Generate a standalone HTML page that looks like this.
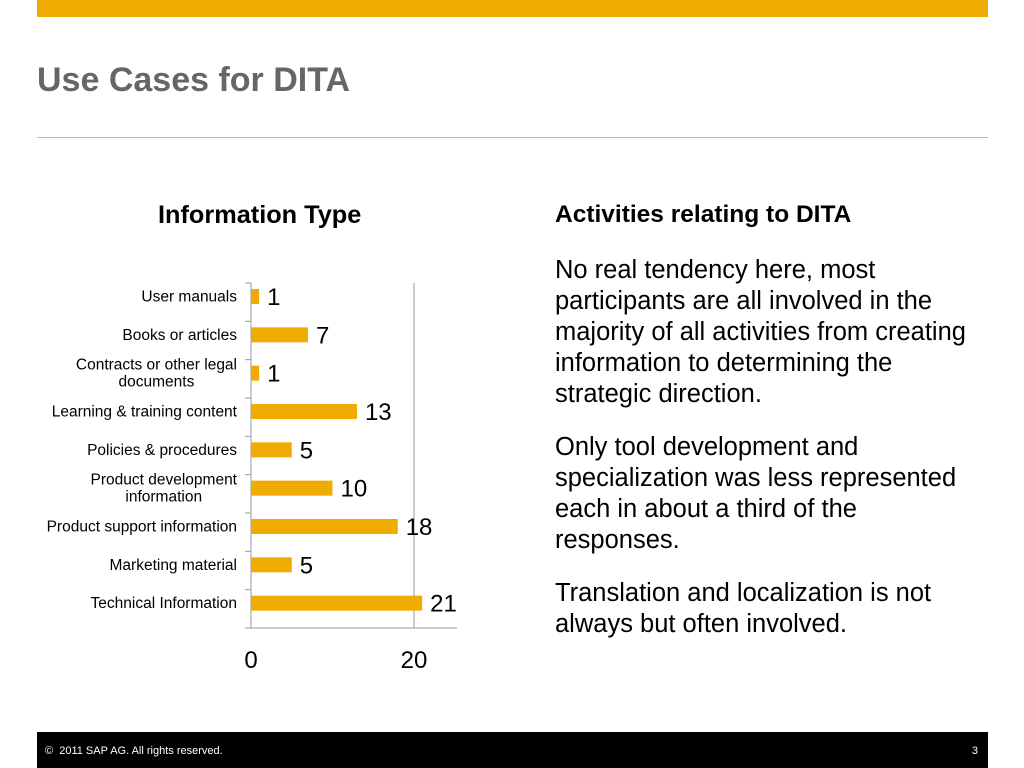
<!DOCTYPE html>
<html><head><meta charset="utf-8"><style>
body{margin:0;width:1024px;height:768px;background:#fff;font-family:"Liberation Sans",Arial,sans-serif;position:relative;overflow:hidden}
.abs{position:absolute}
</style></head><body>
<div class="abs" style="left:37px;top:0;width:951px;height:17px;background:#f0ab00"></div>
<div class="abs" style="left:37px;top:61px;font-size:34px;font-weight:bold;color:#666">Use Cases for DITA</div>
<div class="abs" style="left:37px;top:137px;width:951px;height:1px;background:#bbb"></div>
<div class="abs" style="left:158px;top:201px;font-size:25.3px;font-weight:bold;color:#000;white-space:nowrap">Information Type</div>
<div class="abs" style="left:555px;top:201px;font-size:24.5px;font-weight:bold;color:#000;white-space:nowrap">Activities relating to DITA</div>
<div class="abs" style="left:555px;top:255px;width:420px;font-size:25.5px;line-height:31px;color:#000">
<p style="margin:0 0 22px">No real tendency here, most participants are all involved in the majority of all activities from creating information to determining the strategic direction.</p>
<p style="margin:0 0 22px">Only tool development and specialization was less represented each in about a third of the responses.</p>
<p style="margin:0">Translation and localization is not always but often involved.</p></div>
<svg class="abs" style="left:0;top:0" width="1024" height="768" id="chart"></svg>
<div class="abs" style="left:37px;top:732px;width:951px;height:36px;background:#000;color:#fff;font-size:11px">
<span class="abs" style="left:8px;top:13px">©&nbsp; 2011 SAP AG. All rights reserved.</span>
<span class="abs" style="right:10px;top:13px">3</span></div>
<script>
const categories=["User manuals","Books or articles","Contracts or other legal|documents","Learning & training content","Policies & procedures","Product development|information","Product support information","Marketing material","Technical Information"];
const values=[1,7,1,13,5,10,18,5,21];
const ticks=[0,20];
const svg=document.getElementById('chart');
const NS='http://www.w3.org/2000/svg';
const x0=251,pxPer=8.15,yTop=283,yBot=628;
const band=(yBot-yTop)/categories.length;
const X=v=>x0+v*pxPer;
function mk(t,a,txt){const e=document.createElementNS(NS,t);for(const k in a)e.setAttribute(k,a[k]);if(txt!=null)e.textContent=txt;svg.appendChild(e);return e;}
ticks.forEach(t=>{
 if(t!==0){const g=mk('line',{x1:X(t),x2:X(t),y1:yTop,y2:yBot,stroke:'#999','stroke-width':1});
 
 }
 const l=mk('text',{x:X(t),y:668,'font-size':24,'text-anchor':'middle','font-family':'Liberation Sans, sans-serif'},t);
 
 
});
const ax=mk('line',{x1:x0,x2:x0,y1:yTop,y2:yBot,stroke:'#999'});


const hx=mk('line',{x1:245,x2:457,y1:yBot,y2:yBot,stroke:'#999'});


for(let i=0;i<=categories.length;i++){
 const y=yTop+i*band;
 const tk=mk('line',{x1:245,x2:x0,y1:y,y2:y,stroke:'#999'});
 
 
}
categories.forEach((c,i)=>{
 const by=yTop+i*band+6;
 const r=mk('rect',{x:x0,y:by,width:X(values[i])-x0,height:15,fill:'#f0ab00'});
 
 
 const v=mk('text',{x:X(values[i])+8,y:by+16,'font-size':24,'font-family':'Liberation Sans, sans-serif'},values[i]);
 
 
 const parts=c.split('|');
 const cy=by+7.5;
 const els=parts.map((p,j)=>{
  const yy=cy+5+(j-(parts.length-1)/2)*17;
  const t=mk('text',{x:237,y:yy,'font-size':15.5,'text-anchor':parts.length>1?'middle':'end','font-family':'Liberation Sans, sans-serif'},p);
  
  
  return t;
 });
 if(parts.length>1){
  const w=Math.max(...els.map(e=>e.getComputedTextLength()));
  els.forEach(e=>e.setAttribute('x',237-w/2));
 }
});
</script>
</body></html>
